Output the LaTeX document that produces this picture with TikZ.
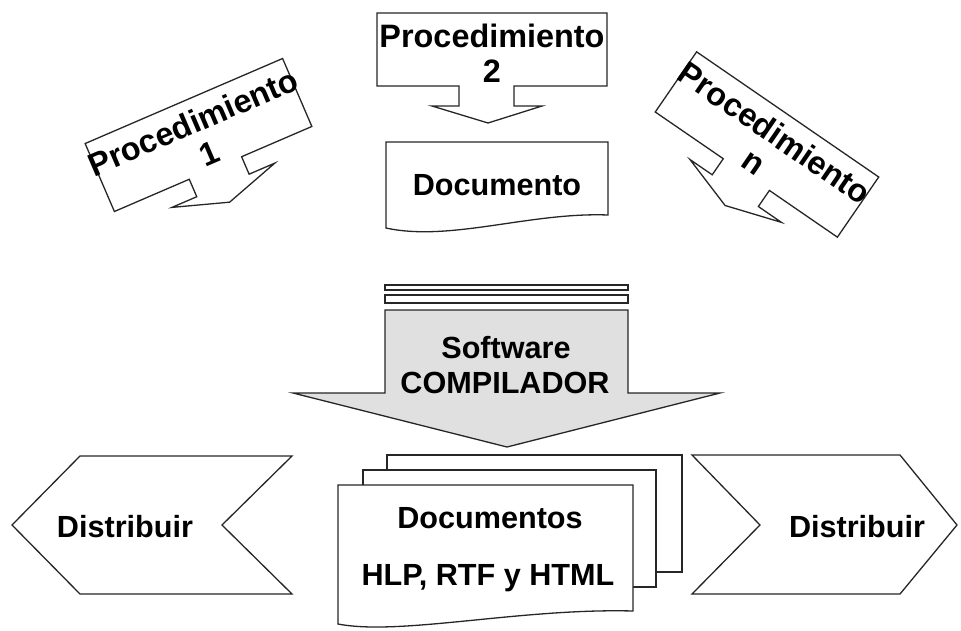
\documentclass[tikz,border=0pt]{standalone}
\usepackage{fontspec}
\setmainfont{Liberation Sans}
\begin{document}
\begin{tikzpicture}[x=1pt,y=-1pt,
  shp/.style={draw=black!85,line width=1.3pt,line join=miter,fill=white},
  lbl/.style={font=\fontsize{30.6}{36}\selectfont\bfseries,inner sep=0pt,anchor=base},
  plbl/.style={lbl,font=\fontsize{32.4}{38}\selectfont\bfseries},
  compfill/.style={shp,fill=black!12}]
\useasboundingbox (0,0) rectangle (961,630);

% ---- Procedimiento 2 ----
\begin{scope}[shift={(492,49.5)}]
  \draw[shp] (-115,-36.5) -- (115,-36.5) -- (115,36.5) -- (22,36.5) -- (22,56.5)
     -- (50,56.5) -- (-4,73.5) -- (-60,56.5) -- (-33,56.5) -- (-33,36.5) -- (-115,36.5) -- cycle;
  \node[plbl] (p2a) at (0,-2.5) {Procedimiento};
  \node[plbl] (p2b) at (0,32.5) {2};
\end{scope}

% ---- Procedimiento 1 ----
\begin{scope}[shift={(198.5,135)},rotate=23.3]
  \draw[shp] (-107.5,-37) -- (107.5,-37) -- (107.5,37) -- (31,37) -- (31,56)
     -- (59,56) -- (2,74) -- (-53,56) -- (-26,56) -- (-26,37) -- (-107.5,37) -- cycle;
  \node[plbl,rotate=23.3] (p1a) at (0,-2.5) {Procedimiento};
  \node[plbl,rotate=23.3] (p1b) at (3,32.5) {1};
\end{scope}

% ---- Procedimiento n ----
\begin{scope}[shift={(767,144.5)},rotate=-34.5]
  \draw[shp] (-110.5,-36.5) -- (110.5,-36.5) -- (110.5,36.5) -- (28,36.5) -- (28,56)
     -- (56,56) -- (0,74) -- (-55,56) -- (-28,56) -- (-28,36.5) -- (-110.5,36.5) -- cycle;
  \node[plbl,rotate=-34.5] (pna) at (0,-2.5) {Procedimiento};
  \node[plbl,rotate=-34.5] (pnb) at (-1,32.5) {n};
\end{scope}

% ---- Documento ----
\draw[shp] (386,142) -- (608,142) -- (608,215)
   .. controls (530,212) and (450,242) .. (386,228) -- cycle;
\node[lbl] (doc) at (497,195) {Documento};

% ---- Software COMPILADOR ----
\draw[shp] (385,285) rectangle (628,290);
\draw[shp] (385,295) rectangle (628,303);
\draw[compfill] (385,310) -- (628,310) -- (628,393) -- (720,393) -- (507,447)
   -- (293,393) -- (385,393) -- cycle;
\node[lbl] (sw) at (506,358) {Software};
\node[lbl] (comp) at (505,393) {COMPILADOR};

% ---- Documentos stack ----
\draw[shp] (387,455) rectangle (682,572);
\draw[shp] (363,470) rectangle (656,587);
\draw[shp] (338,485) -- (633,485) -- (633,611)
   .. controls (520,608) and (400,636) .. (338,624) -- cycle;
\node[lbl] (docs) at (490,528) {Documentos};
\node[lbl] (fmt) at (488,585) {HLP, RTF y HTML};

% ---- Distribuir (left) ----
\draw[shp] (12,525) -- (80,456) -- (292,456) -- (222,525) -- (292,594) -- (80,594) -- cycle;
\node[lbl] (dl) at (125,537) {Distribuir};

% ---- Distribuir (right) ----
\draw[shp] (692,455) -- (900,455) -- (957,525) -- (900,594) -- (692,594) -- (760,525) -- cycle;
\node[lbl] (dr) at (857,537) {Distribuir};
\end{tikzpicture}
\end{document}
